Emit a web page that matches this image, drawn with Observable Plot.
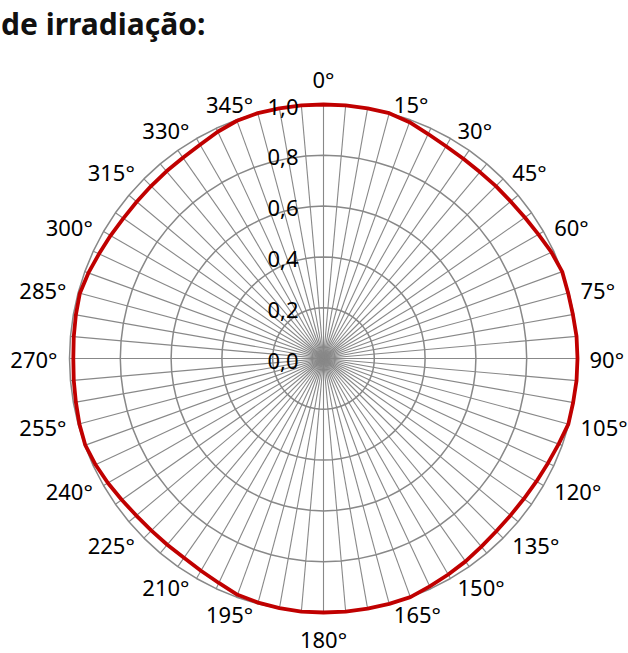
<!DOCTYPE html>
<html><head><meta charset="utf-8">
<script src="https://cdn.jsdelivr.net/npm/d3@7"></script>
<script src="https://cdn.jsdelivr.net/npm/@observablehq/plot@0.6"></script>
<style>
body{margin:0;background:#fff;}
#wrap{position:relative;width:628px;height:653px;overflow:hidden;}
#title{position:absolute;left:1px;top:3px;font:bold 30px "Noto Sans";color:#111;white-space:nowrap;}
#chart{position:absolute;left:0;top:0;}
</style></head><body>
<div id="wrap"><div id="chart"></div><div id="title">de irradiação:</div></div>
<script>
// categories (degrees), one every 5°
const angles = [0,5,10,15,20,25,30,35,40,45,50,55,60,65,70,75,80,85,90,95,100,105,110,115,120,125,130,135,140,145,150,155,160,165,170,175,180,185,190,195,200,205,210,215,220,225,230,235,240,245,250,255,260,265,270,275,280,285,290,295,300,305,310,315,320,325,330,335,340,345,350,355];
// radiation pattern values (normalized)
const values = [1.00,1.00,1.00,1.00,0.99,0.975,0.965,0.96,0.958,0.96,0.962,0.968,0.977,0.99,1.00,0.997,0.997,1.00,1.00,1.00,0.998,0.998,0.985,0.975,0.968,0.963,0.961,0.962,0.967,0.975,0.982,0.99,1.00,1.00,1.00,1.00,1.00,1.00,0.998,0.995,0.99,0.975,0.965,0.958,0.957,0.958,0.962,0.97,0.98,0.99,0.998,0.995,0.99,0.987,0.985,0.987,0.99,0.993,0.985,0.975,0.968,0.962,0.96,0.96,0.962,0.965,0.972,0.985,0.996,1.00,1.00,1.00];
// angle tick labels
const tickAngles = [0,15,30,45,60,75,90,105,120,135,150,165,180,195,210,225,240,255,270,285,300,315,330,345];
const tickLabels = ["0°","15°","30°","45°","60°","75°","90°","105°","120°","135°","150°","165°","180°","195°","210°","225°","240°","255°","270°","285°","300°","315°","330°","345°"];
// radial rings and their labels
const ringValues = [0,0.2,0.4,0.6,0.8,1.0];
const ringLabels = ["0,0","0,2","0,4","0,6","0,8","1,0"];

const rad = a => a * Math.PI / 180;
const px = (a, r) => r * Math.sin(rad(a));
const py = (a, r) => r * Math.cos(rad(a));
const PXU = 254; // pixels per data unit (from the scale ranges below)

const series = angles.map((a, i) => ({a, v: values[i]}));
const rings = ringValues.filter(r => r > 0).flatMap(r => angles.map(a => ({a, r})));
const ticks = tickAngles.map((a, i) => ({a, t: tickLabels[i]}));
// label anchor: outer ring point, pushed sideways and vertically a little
const lx = a => {
  const s = Math.sin(rad(a));
  if (Math.abs(s) < 0.01) return 0;
  return s + Math.sign(s) * (2 + 10 * Math.abs(s)) / PXU;
};
const ly = a => {
  const c = Math.cos(rad(a)), s = Math.sin(rad(a));
  if (Math.abs(s) < 0.01) return c > 0 ? 1 + 24 / PXU : -1 - 28 / PXU;
  return c - (2 - 10 * c) / PXU;
};

const chart = Plot.plot({
  width: 628, height: 653, margin: 0,
  x: {domain: [-1, 1], range: [69, 577], axis: null},
  y: {domain: [-1, 1], range: [612, 104], axis: null},
  style: {fontFamily: "Noto Sans", background: "transparent"},
  marks: [
    Plot.link(angles, {x1: 0, y1: 0, x2: a => px(a, 1), y2: a => py(a, 1), stroke: "#888", strokeWidth: 1.1}),
    Plot.line(rings, {x: d => px(d.a, d.r), y: d => py(d.a, d.r), z: "r", curve: "linear-closed", stroke: "#888", strokeWidth: 1.5}),
    Plot.line(series, {x: d => px(d.a, d.v), y: d => py(d.a, d.v), curve: "linear-closed", stroke: "#c00000", strokeWidth: 3.8, strokeLinejoin: "round"}),
    Plot.text(ringValues, {x: 0, y: r => r, text: ringLabels, textAnchor: "end", dx: -25, dy: 3, fontSize: 22, fill: "#000"}),
    Plot.text(ticks.filter(d => Math.sin(rad(d.a)) > 0.01), {x: d => lx(d.a), y: d => ly(d.a), text: "t", textAnchor: "start", fontSize: 22, fill: "#000"}),
    Plot.text(ticks.filter(d => Math.sin(rad(d.a)) < -0.01), {x: d => lx(d.a), y: d => ly(d.a), text: "t", textAnchor: "end", fontSize: 22, fill: "#000"}),
    Plot.text(ticks.filter(d => Math.abs(Math.sin(rad(d.a))) <= 0.01), {x: d => lx(d.a), y: d => ly(d.a), text: "t", textAnchor: "middle", fontSize: 22, fill: "#000"})
  ]
});
document.getElementById("chart").appendChild(chart);
</script>
</body></html>
